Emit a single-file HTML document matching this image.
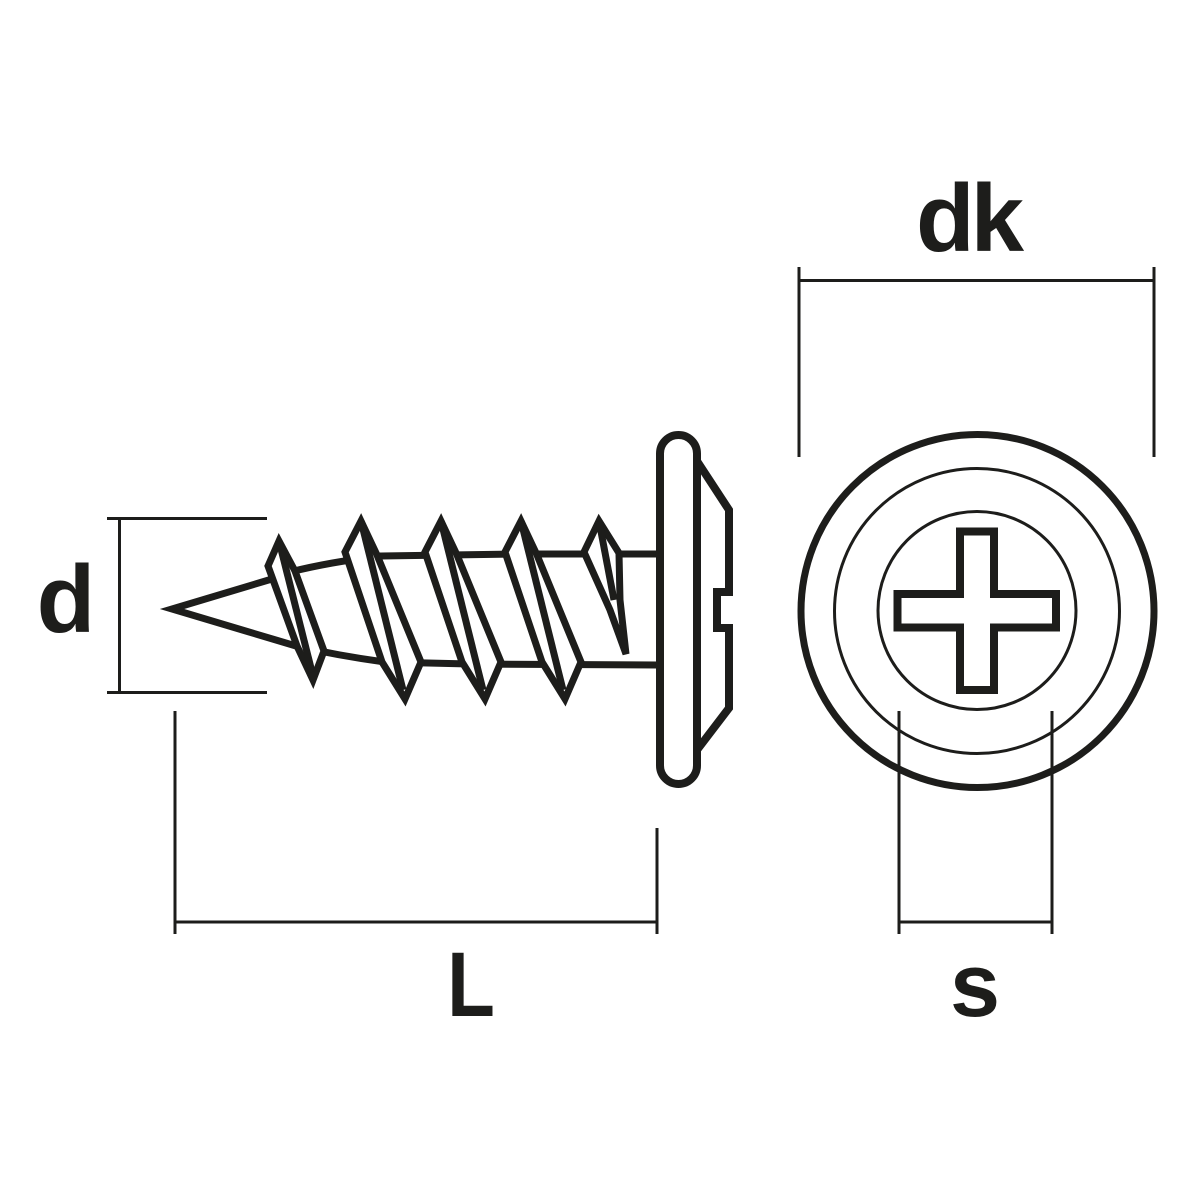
<!DOCTYPE html>
<html>
<head>
<meta charset="utf-8">
<style>
  html, body { margin: 0; padding: 0; background: #fff; }
  svg { display: block; }
  text { font-family: "Liberation Sans", Arial, sans-serif; font-weight: bold; fill: #1d1d1b; }
</style>
</head>
<body>
<svg width="1200" height="1200" viewBox="0 0 1200 1200" xmlns="http://www.w3.org/2000/svg">
  <rect width="1200" height="1200" fill="#ffffff"/>
  <g stroke="#1d1d1b" fill="none">
    <!-- dimension lines -->
    <path d="M107,518.5H267 M107,692.5H267 M119.5,518.5V692.5" stroke-width="3"/>
    <path d="M799,267V457 M1154,267V457 M799,280.5H1154" stroke-width="3"/>
    <path d="M175,711V934 M657,828V934 M175,922H657" stroke-width="3"/>

    <!-- head front view -->
    <circle cx="977.5" cy="611" r="176.5" stroke-width="7"/>
    <circle cx="977" cy="611" r="142.5" stroke-width="3"/>
    <circle cx="977" cy="610.5" r="99" stroke-width="3"/>
    <path d="M960,531.5 H994 V594 H1056 V627.5 H994 V690 H960 V627.5 H897.5 V594 H960 Z" stroke-width="8" stroke-linejoin="miter"/>

    <!-- s dimension (drawn over circles) -->
    <path d="M899,711V934 M1052,711V934 M899,922H1052" stroke-width="3"/>

    <!-- screw head side view -->
    <path d="M697,461 L729,510 L729,592 L717,592 L717,628 L729,628 L729,708 L697,750" stroke-width="8" stroke-linejoin="miter"/>
    <rect x="660" y="435" width="37" height="349" rx="18.5" ry="18.5" stroke-width="8" fill="#fff"/>

    <!-- shaft and tip -->
    <g stroke-width="7" stroke-linejoin="miter" stroke-miterlimit="6">
      <path d="M272,579 L172,609 L296,646"/>
      <path d="M290,572 Q330,562 380,556 L520,554 L658,554"/>
      <path d="M296,646 Q340,656 385,662 L470,664 L658,665"/>

      <!-- thread 1 -->
      <path d="M268,566 L279,541 L295,571 L324,651 L313,680 L297,646 Z" fill="#fff"/>
      <path d="M279,541 L312,672"/>

      <!-- thread 2 -->
      <path d="M345,552 L361,521 L377,555 L421,662 L405,699 L382,662 Z" fill="#fff"/>
      <path d="M361,521 L403,690"/>

      <!-- thread 3 -->
      <path d="M425,552 L441,521 L457,555 L501,662 L485,699 L462,662 Z" fill="#fff"/>
      <path d="M441,521 L483,690"/>

      <!-- thread 4 -->
      <path d="M505,552 L521,521 L537,555 L581,662 L565,699 L542,662 Z" fill="#fff"/>
      <path d="M521,521 L563,690"/>

      <!-- thread 5 (partial) -->
      <path d="M584,552 L599,521 L619,553 L620,600 L626,654 L610,610 Z" fill="#fff"/>
      <path d="M599,521 L614,600"/>
    </g>
  </g>

  <!-- labels -->
  <text x="66" y="632" font-size="96" text-anchor="middle">d</text>
  <text x="968" y="251" font-size="96" text-anchor="middle" letter-spacing="-4">dk</text>
  <text transform="translate(471,1016) scale(0.85,1)" x="0" y="0" font-size="92" text-anchor="middle">L</text>
  <text x="975" y="1016" font-size="90" text-anchor="middle">s</text>
</svg>
</body>
</html>
